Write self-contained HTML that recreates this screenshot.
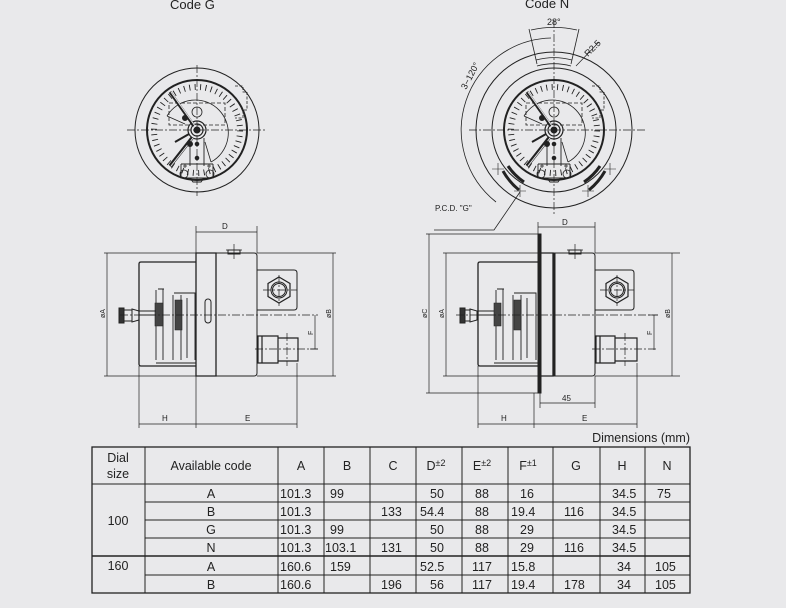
<!DOCTYPE html>
<html><head><meta charset="utf-8"><style>
html,body{margin:0;padding:0;background:#e9e9eb;}
svg{display:block}
text{font-family:"Liberation Sans",sans-serif;fill:#222}
</style></head><body>
<svg width="786" height="608" viewBox="0 0 786 608" xmlns="http://www.w3.org/2000/svg">
<rect width="786" height="608" fill="#e9e9eb"/>
<defs>
<g id="dial">
  <circle r="50" fill="none" stroke="#222" stroke-width="2"/>
  <circle r="43" fill="none" stroke="#222" stroke-width="6" stroke-dasharray="0.9 4.5" transform="rotate(130)"/>
  <path d="M-30,-14 A33,33 0 1 1 14,32" fill="none" stroke="#222" stroke-width="0.8"/>
  <path d="M-30,-14 L-12,-6 M14,32 L8,12" fill="none" stroke="#222" stroke-width="0.8"/>
  <path d="M-28,-27 L28,-27 L28,-5 L-28,-5 Z" fill="none" stroke="#222" stroke-width="0.8" stroke-dasharray="4 2"/>
  <path d="M38,-44 L46,-44 L46,-38 L50,-38 L50,-20 L46,-20 L46,-12 L38,-12" fill="none" stroke="#222" stroke-width="0.8" stroke-dasharray="3 1.5"/>
  <circle cx="0" cy="-18" r="5" fill="none" stroke="#222" stroke-width="0.8"/>
  <circle r="9" fill="none" stroke="#222" stroke-width="1.2"/>
  <circle r="6" fill="none" stroke="#222" stroke-width="1.2"/>
  <circle r="3" fill="#222"/>
  <path d="M-27,-38 L-3,-4" stroke="#222" stroke-width="3"/>
  <path d="M-26,-38 L-2,-4" stroke="#e9e9eb" stroke-width="1"/>
  <path d="M-27,36 L-5,8" stroke="#222" stroke-width="3.5"/>
  <path d="M-26,36 L-4,8" stroke="#e9e9eb" stroke-width="1"/>
  <path d="M-22,12 L-8,4" stroke="#222" stroke-width="2"/>
  <circle cx="-12" cy="-12" r="2.5" fill="#222"/>
  <circle cx="-7" cy="14" r="2.5" fill="#222"/>
  <circle cx="0" cy="14" r="1.8" fill="#222"/>
  <circle cx="0" cy="28" r="1.8" fill="#222"/>
  <path d="M-7,8 L-7,36 M7,8 L7,36 M-16,34 L16,34 M-16,34 L-16,48 L16,48 L16,34 M-7,48 L-4,52 L4,52 L7,48" fill="none" stroke="#222" stroke-width="0.9"/>
  <circle cx="-13" cy="44" r="4" fill="none" stroke="#222" stroke-width="0.8"/>
  <circle cx="13" cy="44" r="4" fill="none" stroke="#222" stroke-width="0.8"/>
  <path d="M-12,34 l0,4 M12,34 l0,4 M-14,36 l4,0 M10,36 l4,0" stroke="#222" stroke-width="0.8"/>
</g>
</defs>

<g stroke="#222" fill="none">
<g transform="translate(197,130)">
  <circle r="62" stroke-width="1"/>
  <use href="#dial"/>
  <path d="M-70,0 L70,0 M0,-65 L0,66" stroke-width="0.7" stroke-dasharray="8 2 2 2"/>
</g>
<g transform="translate(554,130)">
  <circle r="78" stroke-width="1"/>
  <circle r="62" stroke-width="1"/>
  <use href="#dial"/>
  <path d="M-85,0 L92,0 M0,-110 L0,85" stroke-width="0.7" stroke-dasharray="8 2 2 2"/>
  <path d="M-3,-92 A92,92 0 0 0 -58,72" stroke-width="0.8"/>
  <path d="M-23,-100 A102,102 0 0 1 23,-100" stroke-width="0.8"/>
  <path d="M-25,-101 L-17,-66 M25,-101 L17,-66" stroke-width="0.8"/>
  <path d="M-18,-70 A70,70 0 0 1 18,-70 M-17,-64 A65,65 0 0 1 17,-64" stroke-width="0.8"/>
  <path d="M-51,41 A66,66 0 0 0 -35,60 M-46,36 A58,58 0 0 0 -30,52" stroke-width="3"/>
  <path d="M51,41 A66,66 0 0 1 35,60 M46,36 A58,58 0 0 1 30,52" stroke-width="3"/>
  <path d="M-56,33 L-56,45 M-62,39 L-50,39 M-34,55 L-34,67 M-40,61 L-28,61 M56,33 L56,45 M62,39 L50,39 M34,55 L34,67 M40,61 L28,61" stroke-width="0.6"/>
  <path d="M22,-64 L45,-88" stroke-width="0.7"/>
  <path d="M-34,62 L-60,100 L-120,100" stroke-width="0.8"/>
</g>

<g stroke-width="1">
  <path d="M196,253 L216,253 L216,376 L196,376 Z" stroke-width="1.3"/>
  <path d="M216,253 L254,253 Q257,253 257,256 L257,373 Q257,376 254,376 L216,376"/>
  <path d="M196,262 L141,262 Q139,262 139,264 L139,364 Q139,366 141,366 L196,366" stroke-width="1.3"/>
  <path d="M156,363 L196,363 M156,290 L156,360 M163,289 L163,360 M158,289 L164,289 M174,293 L195,293 L195,360 M173,295 L173,360 M181,295 L181,360 M187,298 L187,358" stroke-width="0.9"/>
  <path d="M155,303 L163,303 L163,326 L155,326 Z M175,300 L182,300 L182,330 L175,330 Z" fill="#444" stroke-width="0.6"/>
  <path d="M132,309 L139,311 L139,320 L132,322 Z" fill="none"/>
  <path d="M119,308 L124,308 L124,323 L119,323 Z" fill="#333"/>
  <path d="M124,310 L132,310 M124,321 L132,321 M139,311 L156,311 M139,315 L156,315"/>
  <rect x="205" y="299" width="6" height="24" rx="3"/>
  <path d="M257,270 L294,270 Q297,270 297,273 L297,307 Q297,310 294,310 L257,310"/>
  <path d="M279,277 L290,283.5 L290,296.5 L279,303 L268,296.5 L268,283.5 Z" stroke-width="1.2"/>
  <circle cx="279" cy="290" r="8"/>
  <circle cx="279" cy="290" r="6.5"/>
  <path d="M258,336 L258,363 L278,363 L278,336 Z M262,336 L262,363 M278,338 L298,338 L298,361 L278,361" stroke-width="1.2"/>
  <rect x="228" y="250" width="12" height="4"/>
  <path d="M234,244 L234,259 M226,250 L242,250" stroke-width="0.7"/>
</g>
<g stroke-width="0.7" stroke-dasharray="8 2 2 2">
  <path d="M120,315 L318,315 M263,290 L297,290 M279,275 L279,306 M255,349 L318,349 M287,333 L287,366"/>
</g>
<g stroke-width="0.7">
  <path d="M104,253 L196,253 M104,376 L196,376 M107,253 L107,376"/>
  <path d="M257,253 L336,253 M257,376 L336,376 M333,253 L333,376"/>
  <path d="M196,226 L196,253 M257,226 L257,253 M196,232 L257,232"/>
  <path d="M139,366 L139,428 M196,376 L196,428 M297,363 L297,428 M139,424 L297,424"/>
  <path d="M310,349 L318,349 M315,315 L315,349"/>
</g>

<g stroke-width="1">
  <rect x="538" y="234" width="3" height="159" fill="#222"/>
  <path d="M541,253 L553,253 L553,376 L541,376" stroke-width="1.3"/>
  <path d="M553,253 L592,253 Q595,253 595,256 L595,373 Q595,376 592,376 L553,376"/>
  <rect x="553" y="253" width="2" height="123" fill="#222"/>
  <path d="M538,262 L480,262 Q478,262 478,264 L478,364 Q478,366 480,366 L538,366" stroke-width="1.3"/>
  <path d="M494,363 L538,363 M496,290 L496,360 M503,289 L503,360 M497,289 L504,289 M514,293 L536,293 L536,360 M513,295 L513,360 M521,295 L521,360 M527,298 L527,358" stroke-width="0.9"/>
  <path d="M494,303 L501,303 L501,326 L494,326 Z M514,300 L521,300 L521,330 L514,330 Z" fill="#444" stroke-width="0.6"/>
  <path d="M470,309 L477,311 L477,320 L470,322 Z"/>
  <path d="M460,308 L465,308 L465,323 L460,323 Z" fill="#333"/>
  <path d="M465,310 L470,310 M465,321 L470,321 M477,311 L494,311 M477,315 L494,315"/>
  <path d="M595,270 L631,270 Q634,270 634,273 L634,307 Q634,310 631,310 L595,310"/>
  <path d="M617,277 L628,283.5 L628,296.5 L617,303 L606,296.5 L606,283.5 Z" stroke-width="1.2"/>
  <circle cx="617" cy="290" r="8"/>
  <circle cx="617" cy="290" r="6.5"/>
  <path d="M596,336 L596,363 L615,363 L615,336 Z M600,336 L600,363 M615,338 L637,338 L637,361 L615,361" stroke-width="1.2"/>
  <rect x="569" y="250" width="12" height="4"/>
  <path d="M575,244 L575,259 M567,250 L583,250" stroke-width="0.7"/>
</g>
<g stroke-width="0.7" stroke-dasharray="8 2 2 2">
  <path d="M456,315 L658,315 M600,290 L634,290 M617,275 L617,306 M592,349 L658,349 M625,333 L625,366"/>
</g>
<g stroke-width="0.7">
  <path d="M426,234 L538,234 M426,393 L538,393 M429,234 L429,393"/>
  <path d="M443,253 L541,253 M443,376 L541,376 M446,253 L446,376"/>
  <path d="M595,253 L680,253 M595,376 L680,376 M672,253 L672,376"/>
  <path d="M538,222 L538,234 M595,222 L595,253 M538,227 L595,227"/>
  <path d="M540,393 L540,408 M540,403 L595,403 M595,376 L595,408"/>
  <path d="M478,366 L478,428 M534,393 L534,428 M637,363 L637,428 M478,424 L637,424"/>
  <path d="M648,315 L658,315 M654,315 L654,350"/>
</g>
</g>

<g font-size="10">
  <text x="170" y="9" font-size="13">Code  G</text>
  <text x="525" y="8" font-size="13">Code  N</text>
  <text x="547" y="25" font-size="9">28°</text>
  <text x="0" y="0" font-size="9" transform="translate(588,57) rotate(-45)">R2.5</text>
  <text x="0" y="0" font-size="9" transform="translate(466,90) rotate(-62)">3−120°</text>
  <text x="435" y="211" font-size="8">P.C.D.  "G"</text>
  <text x="222" y="229" font-size="8">D</text>
  <text x="562" y="225" font-size="8">D</text>
  <text x="162" y="421" font-size="8">H</text>
  <text x="245" y="421" font-size="8">E</text>
  <text x="501" y="421" font-size="8">H</text>
  <text x="582" y="421" font-size="8">E</text>
  <text x="562" y="401" font-size="8">45</text>
  <text transform="translate(105,318) rotate(-90)" font-size="7">øA</text>
  <text transform="translate(331,318) rotate(-90)" font-size="7">øB</text>
  <text transform="translate(313,335) rotate(-90)" font-size="7">F</text>
  <text transform="translate(427,318) rotate(-90)" font-size="7">øC</text>
  <text transform="translate(444,318) rotate(-90)" font-size="7">øA</text>
  <text transform="translate(670,318) rotate(-90)" font-size="7">øB</text>
  <text transform="translate(652,335) rotate(-90)" font-size="7">F</text>
</g>

<text x="690" y="442" font-size="12.5" text-anchor="end">Dimensions  (mm)</text>
<g stroke="#222" fill="none" stroke-width="1">
  <rect x="92" y="447" width="598" height="146" stroke-width="1.3"/>
  <path d="M145,447 L145,593 M278,447 L278,593 M324,447 L324,593 M370,447 L370,593 M416,447 L416,593 M462,447 L462,593 M508,447 L508,593 M553,447 L553,593 M600,447 L600,593 M645,447 L645,593"/>
  <path d="M92,484 L690,484 M145,502 L690,502 M145,520 L690,520 M145,538 L690,538 M145,575 L690,575"/>
  <path d="M92,556 L690,556" stroke-width="1.6"/>
</g>
<g font-size="12.5" text-anchor="middle">
  <text x="118" y="462">Dial</text><text x="118" y="478">size</text>
  <text x="211" y="470">Available  code</text>
  <text x="301" y="470">A</text><text x="347" y="470">B</text><text x="393" y="470">C</text>
  <text x="436" y="470">D<tspan font-size="9" dy="-4">±2</tspan></text>
  <text x="482" y="470">E<tspan font-size="9" dy="-4">±2</tspan></text>
  <text x="528" y="470">F<tspan font-size="9" dy="-4">±1</tspan></text>
  <text x="576" y="470">G</text><text x="622" y="470">H</text><text x="667" y="470">N</text>
  <text x="118" y="525">100</text>
  <text x="118" y="570">160</text>
  <text x="211" y="498">A</text><text x="211" y="516">B</text><text x="211" y="534">G</text><text x="211" y="552">N</text><text x="211" y="571">A</text><text x="211" y="589">B</text>
</g>
<g font-size="12.5">
  <text x="280" y="498">101.3</text><text x="330" y="498">99</text><text x="430" y="498">50</text><text x="475" y="498">88</text><text x="520" y="498">16</text><text x="612" y="498">34.5</text><text x="657" y="498">75</text>
  <text x="280" y="516">101.3</text><text x="381" y="516">133</text><text x="420" y="516">54.4</text><text x="475" y="516">88</text><text x="511" y="516">19.4</text><text x="564" y="516">116</text><text x="612" y="516">34.5</text>
  <text x="280" y="534">101.3</text><text x="330" y="534">99</text><text x="430" y="534">50</text><text x="475" y="534">88</text><text x="520" y="534">29</text><text x="612" y="534">34.5</text>
  <text x="280" y="552">101.3</text><text x="325" y="552">103.1</text><text x="381" y="552">131</text><text x="430" y="552">50</text><text x="475" y="552">88</text><text x="520" y="552">29</text><text x="564" y="552">116</text><text x="612" y="552">34.5</text>
  <text x="280" y="571">160.6</text><text x="330" y="571">159</text><text x="420" y="571">52.5</text><text x="472" y="571">117</text><text x="511" y="571">15.8</text><text x="617" y="571">34</text><text x="655" y="571">105</text>
  <text x="280" y="589">160.6</text><text x="381" y="589">196</text><text x="430" y="589">56</text><text x="472" y="589">117</text><text x="511" y="589">19.4</text><text x="564" y="589">178</text><text x="617" y="589">34</text><text x="655" y="589">105</text>
</g>
</svg>
</body></html>
